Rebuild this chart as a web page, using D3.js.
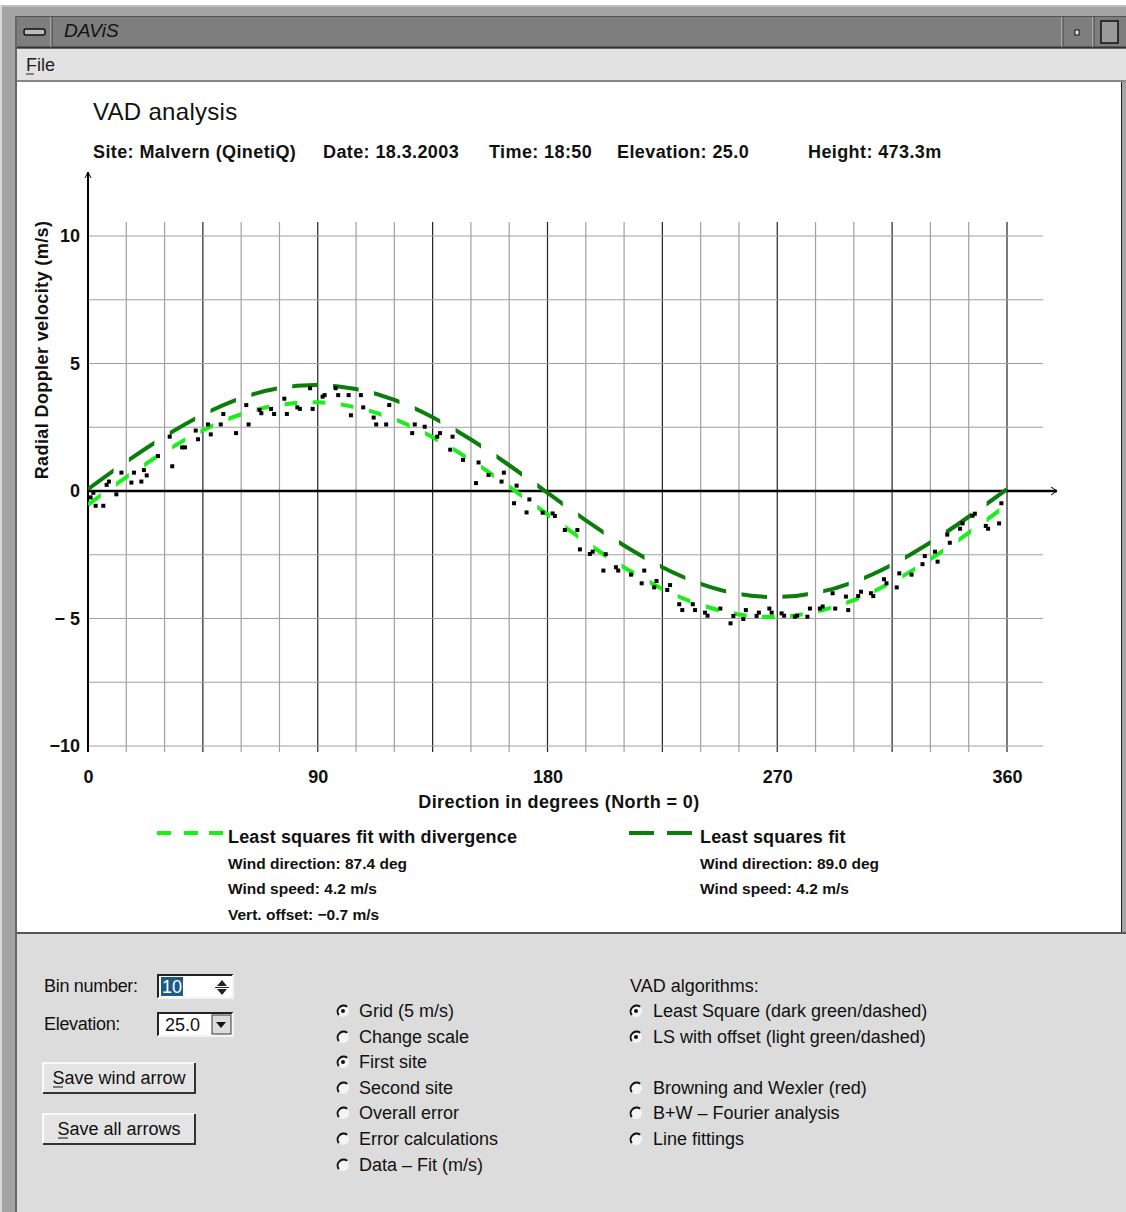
<!DOCTYPE html>
<html><head><meta charset="utf-8">
<script src="https://cdn.jsdelivr.net/npm/d3@7"></script>
<style>
html,body{margin:0;padding:0;background:#fff;}
svg{display:block;font-family:"Liberation Sans",Arial,Helvetica,sans-serif;}
</style></head>
<body>
<svg id="c" width="1126" height="1212"></svg>
<script>
// ---------- data ----------
const obsDir = [1.0,2.1,3.0,6.0,7.3,8.2,11.1,13.1,17.0,18.0,20.9,21.9,23.0,27.4,32.0,33.0,36.9,38.0,42.2,43.1,47.0,48.1,52.0,53.0,58.0,62.0,62.9,67.2,67.9,71.7,72.9,76.9,77.9,82.0,83.0,87.0,88.0,91.9,92.7,97.0,98.0,102.1,103.0,106.9,107.8,111.9,112.9,116.8,118.0,127.0,128.0,131.9,136.8,137.9,141.9,142.8,146.9,152.0,153.0,156.9,162.0,162.9,166.9,167.9,171.8,172.9,178.1,182.0,182.9,186.8,191.7,192.7,196.6,197.7,201.9,202.8,206.8,207.7,212.7,216.9,217.9,221.8,222.7,226.9,228.0,231.6,232.8,236.9,237.8,241.7,242.7,247.7,251.7,252.8,256.7,257.7,261.9,262.8,266.9,267.8,271.7,272.7,276.9,277.8,281.8,282.8,286.7,287.8,291.7,292.7,296.9,297.8,301.7,302.8,306.7,307.6,311.8,312.8,316.8,317.8,322.6,326.9,327.8,331.8,332.8,336.6,337.6,341.6,342.6,346.5,347.4,351.7,352.6,356.9,357.8];
const obsVel = [-0.25,-0.07,-0.58,-0.58,0.24,0.37,-0.13,0.72,0.33,0.72,0.37,0.82,0.61,1.37,2.13,0.97,1.71,1.71,2.37,2.03,2.61,2.22,2.61,3.02,2.27,3.37,2.61,3.18,3.05,3.22,3.02,3.62,3.02,3.28,3.22,4.03,3.22,3.70,3.76,4.03,3.76,3.76,2.97,3.76,3.28,2.88,2.61,2.61,3.37,2.27,2.61,2.52,2.13,2.27,1.62,2.13,1.22,0.31,1.12,0.63,0.37,0.72,-0.48,0.21,-0.84,-0.33,-0.85,-0.88,-0.98,-1.53,-1.53,-2.29,-2.47,-2.38,-3.12,-2.48,-2.99,-3.12,-3.28,-3.62,-3.12,-3.78,-3.53,-3.88,-3.69,-4.44,-4.67,-4.44,-4.67,-4.77,-4.89,-4.61,-5.19,-4.90,-5.02,-4.67,-4.90,-4.77,-4.61,-4.77,-4.80,-4.89,-4.93,-4.89,-4.93,-4.61,-4.61,-4.53,-4.01,-4.61,-4.14,-4.67,-4.12,-3.95,-4.01,-4.12,-3.46,-3.62,-3.78,-3.23,-3.28,-2.87,-2.55,-2.38,-2.77,-1.71,-2.03,-1.48,-1.27,-0.97,-0.89,-1.37,-1.48,-1.27,-0.48];
const fitDir = [0,15,30,45,60,75,90,105,120,135,150,165,180,195,210,225,240,255,270,285,300,315,330,345,360];
const lsFit = [0.07,1.15,2.14,2.99,3.64,4.04,4.16,4.00,3.57,2.89,2.02,1.01,-0.07,-1.15,-2.14,-2.99,-3.64,-4.04,-4.16,-4.00,-3.57,-2.89,-2.02,-1.01,0.07];
const lsOffsetFit = [-0.54,0.54,1.54,2.38,3.01,3.38,3.48,3.28,2.82,2.11,1.21,0.17,-0.92,-2.00,-3.00,-3.84,-4.47,-4.84,-4.94,-4.74,-4.28,-3.57,-2.67,-1.64,-0.54];
const xTicks = [0,90,180,270,360];
const xTickLabels = ["0","90","180","270","360"];
const yTicks = [-10,-5,0,5,10];
const yTickLabels = ["\u221210","\u2212 5","0","5","10"];
const headerItems = ["Site: Malvern (QinetiQ)","Date: 18.3.2003","Time: 18:50","Elevation: 25.0","Height: 473.3m"];
const legendDiv = ["Least squares fit with divergence","Wind direction: 87.4 deg","Wind speed: 4.2 m/s","Vert. offset: \u22120.7 m/s"];
const legendLs = ["Least squares fit","Wind direction: 89.0 deg","Wind speed: 4.2 m/s"];
const radiosLeft = [["Grid (5 m/s)",true],["Change scale",false],["First site",true],["Second site",false],["Overall error",false],["Error calculations",false],["Data \u2013 Fit (m/s)",false]];
const radiosRight = [["Least Square (dark green/dashed)",true],["LS with offset (light green/dashed)",true],null,["Browning and Wexler (red)",false],["B+W \u2013 Fourier analysis",false],["Line fittings",false]];

// ---------- frame ----------
const svg = d3.select("#c");
const W = 1126, H = 1212;
svg.append("rect").attr("x",0).attr("y",0).attr("width",W).attr("height",H).attr("fill","#a4a4a4");
svg.append("rect").attr("x",0).attr("y",0).attr("width",W).attr("height",5).attr("fill","#fff");
svg.append("line").attr("x1",1).attr("x2",1).attr("y1",5).attr("y2",H).attr("stroke","#d8d8d8").attr("stroke-width",2);
svg.append("line").attr("x1",16).attr("x2",16).attr("y1",16).attr("y2",H).attr("stroke","#555").attr("stroke-width",1.5);
svg.append("line").attr("x1",0).attr("x2",W).attr("y1",6).attr("y2",6).attr("stroke","#d8d8d8");
svg.append("line").attr("x1",17).attr("x2",W).attr("y1",16.5).attr("y2",16.5).attr("stroke","#555");
// title bar
svg.append("rect").attr("x",17).attr("y",17).attr("width",W-17).attr("height",30).attr("fill","#7e7e7e");
svg.append("line").attr("x1",17).attr("x2",W).attr("y1",47.5).attr("y2",47.5).attr("stroke","#333").attr("stroke-width",2);
svg.append("line").attr("x1",51).attr("x2",51).attr("y1",17).attr("y2",47).attr("stroke","#cfcfcf");
svg.append("line").attr("x1",52).attr("x2",52).attr("y1",17).attr("y2",47).attr("stroke","#444");
svg.append("rect").attr("x",24).attr("y",29).attr("width",21).attr("height",6).attr("rx",2).attr("fill","#bbb").attr("stroke","#111").attr("stroke-width",1.5);
svg.append("text").attr("x",64).attr("y",37).attr("font-size",19).attr("font-style","italic").attr("fill","#111").text("DAViS");
svg.append("line").attr("x1",1062).attr("x2",1062).attr("y1",17).attr("y2",47).attr("stroke","#cfcfcf");
svg.append("line").attr("x1",1063).attr("x2",1063).attr("y1",17).attr("y2",47).attr("stroke","#444");
svg.append("rect").attr("x",1075).attr("y",30).attr("width",4).attr("height",5).attr("fill","#eee").attr("stroke","#111");
svg.append("line").attr("x1",1093).attr("x2",1093).attr("y1",17).attr("y2",47).attr("stroke","#cfcfcf");
svg.append("line").attr("x1",1094).attr("x2",1094).attr("y1",17).attr("y2",47).attr("stroke","#444");
svg.append("rect").attr("x",1101).attr("y",21).attr("width",17).attr("height",22).attr("fill","#9a9a9a").attr("stroke","#111").attr("stroke-width",1.5);
// menu bar
svg.append("rect").attr("x",17).attr("y",49).attr("width",W-17).attr("height",32).attr("fill","#e2e2e2");
svg.append("line").attr("x1",17).attr("x2",W).attr("y1",81).attr("y2",81).attr("stroke","#888").attr("stroke-width",2);
svg.append("text").attr("x",26).attr("y",71).attr("font-size",18).attr("fill","#222").text("File");
svg.append("line").attr("x1",26).attr("x2",34).attr("y1",74).attr("y2",74).attr("stroke","#222");
// content (white)
svg.append("rect").attr("x",17).attr("y",82).attr("width",W-21).attr("height",850).attr("fill","#fff");
svg.append("line").attr("x1",1121.5).attr("x2",1121.5).attr("y1",82).attr("y2",932).attr("stroke","#222");
// control panel
svg.append("rect").attr("x",17).attr("y",932).attr("width",W-17).attr("height",H-932).attr("fill","#dcdcdc");
svg.append("line").attr("x1",17).attr("x2",W).attr("y1",933).attr("y2",933).attr("stroke","#555").attr("stroke-width",2);

// ---------- chart ----------
const x = d3.scaleLinear().domain([0,360]).range([88,1007]);
const y = d3.scaleLinear().domain([-10,10]).range([746,236]);
const g = svg.append("g");
const vgrid = d3.range(15,361,15);
g.selectAll(".vg").data(vgrid).join("line")
  .attr("x1",d=>x(d)).attr("x2",d=>x(d)).attr("y1",222).attr("y2",752)
  .attr("stroke",d=>d%45===0?"#222":"#a0a0a0").attr("stroke-width",1.2);
const hgrid = d3.range(-10,10.01,2.5).filter(v=>v!==0);
g.selectAll(".hg").data(hgrid).join("line")
  .attr("x1",x(0)).attr("x2",1043).attr("y1",d=>y(d)).attr("y2",d=>y(d))
  .attr("stroke","#a0a0a0").attr("stroke-width",1.2);
g.append("line").attr("x1",x(0)).attr("x2",x(0)).attr("y1",172).attr("y2",752).attr("stroke","#000").attr("stroke-width",2);
g.append("path").attr("d",`M${x(0)-3},178 L${x(0)},172 L${x(0)+3},178`).attr("fill","none").attr("stroke","#000").attr("stroke-width",1);
g.append("line").attr("x1",x(0)).attr("x2",1057).attr("y1",y(0)).attr("y2",y(0)).attr("stroke","#000").attr("stroke-width",2.5);
g.append("path").attr("d",`M1051,${y(0)-4} L1057,${y(0)} L1051,${y(0)+4}`).attr("fill","none").attr("stroke","#000").attr("stroke-width",1);

const yAxis = d3.axisLeft(y).tickValues(yTicks).tickFormat((d,i)=>yTickLabels[i]).tickSize(0).tickPadding(8);
const ya = g.append("g").attr("transform",`translate(${x(0)},0)`).call(yAxis);
ya.select(".domain").remove();
ya.selectAll("text").attr("font-size",18).attr("font-weight","bold").attr("fill","#111").attr("font-family","Liberation Sans,Arial,sans-serif");
const xAxis = d3.axisBottom(x).tickValues(xTicks).tickFormat((d,i)=>xTickLabels[i]).tickSize(0).tickPadding(0);
const xa = g.append("g").attr("transform",`translate(0,770)`).call(xAxis);
xa.select(".domain").remove();
xa.selectAll("text").attr("font-size",18).attr("font-weight","bold").attr("fill","#111").attr("font-family","Liberation Sans,Arial,sans-serif");

g.append("text").attr("x",559).attr("y",808).attr("text-anchor","middle").attr("font-size",18).attr("letter-spacing",0.4).attr("font-weight","bold").attr("fill","#111").text("Direction in degrees (North = 0)");
g.append("text").attr("transform","translate(48,350) rotate(-90)").attr("text-anchor","middle").attr("font-size",18).attr("letter-spacing",0.4).attr("font-weight","bold").attr("fill","#111").text("Radial Doppler velocity (m/s)");

svg.append("text").attr("x",93).attr("y",120).attr("font-size",24).attr("letter-spacing",0.3).attr("fill","#111").text("VAD analysis");
const headerX = [93,323,489,617,808];
svg.selectAll(".hdr").data(headerItems).join("text")
  .attr("x",(d,i)=>headerX[i]).attr("y",158).attr("font-size",18).attr("letter-spacing",0.4).attr("font-weight","bold").attr("fill","#111").text(d=>d);

function bandClip(id, period, dash){
  const cp = svg.append("clipPath").attr("id",id);
  cp.selectAll("rect").data(d3.range(0,360,period)).join("rect")
    .attr("x",d=>x(d)).attr("width",d=>x(Math.min(d+dash,360))-x(d))
    .attr("y",150).attr("height",650);
}
bandClip("clipLs",16,10);
bandClip("clipDiv",11,5);
const line = d3.line().x(d=>x(d[0])).y(d=>y(d[1])).curve(d3.curveNatural);
g.append("path").datum(fitDir.map((d,i)=>[d,lsFit[i]])).attr("d",line)
  .attr("fill","none").attr("stroke","#0b7d0b").attr("stroke-width",4).attr("clip-path","url(#clipLs)");
g.append("path").datum(fitDir.map((d,i)=>[d,lsOffsetFit[i]])).attr("d",line)
  .attr("fill","none").attr("stroke","#18f018").attr("stroke-width",4).attr("clip-path","url(#clipDiv)");

g.selectAll(".obs").data(obsDir.map((d,i)=>[d,obsVel[i]])).join("rect")
  .attr("x",d=>x(d[0])-2).attr("y",d=>y(d[1])-2).attr("width",4).attr("height",4).attr("fill","#000");

const lg = svg.append("g");
[157,184,209].forEach(px=>lg.append("line").attr("x1",px).attr("x2",px+14).attr("y1",833).attr("y2",833).attr("stroke","#18f018").attr("stroke-width",4));
[629,667].forEach(px=>lg.append("line").attr("x1",px).attr("x2",px+25).attr("y1",833).attr("y2",833).attr("stroke","#0b7d0b").attr("stroke-width",4));
function legendBlock(x0, lines){
  lines.forEach((t,i)=>{
    lg.append("text").attr("x",x0).attr("y",i===0?843:843+25.5*i)
      .attr("font-size",i===0?18:15.5).attr("letter-spacing",i===0?0.15:0).attr("font-weight","bold").attr("fill","#111").text(t);
  });
}
legendBlock(228, legendDiv);
legendBlock(700, legendLs);

// ---------- controls ----------
const cg = svg.append("g").attr("fill","#111");
const ctlFont = 18;
cg.append("text").attr("x",44).attr("y",992).attr("font-size",ctlFont).attr("letter-spacing",-0.3).text("Bin number:");
cg.append("text").attr("x",44).attr("y",1030).attr("font-size",ctlFont).attr("letter-spacing",-0.3).text("Elevation:");
function sunken(x0,y0,w,h){
  cg.append("rect").attr("x",x0).attr("y",y0).attr("width",w).attr("height",h).attr("fill","#fff");
  cg.append("path").attr("d",`M${x0},${y0+h} V${y0} H${x0+w}`).attr("fill","none").attr("stroke","#222").attr("stroke-width",2);
  cg.append("path").attr("d",`M${x0},${y0+h} H${x0+w} V${y0}`).attr("fill","none").attr("stroke","#f4f4f4").attr("stroke-width",2);
}
sunken(158,975,75,23);
cg.append("rect").attr("x",161).attr("y",977).attr("width",22).attr("height",19).attr("fill","#1d5a86");
cg.append("text").attr("x",162).attr("y",993).attr("font-size",ctlFont).attr("fill","#fff").text("10");
cg.append("path").attr("d","M217,986 L222,980 L227,986 Z M217,989 L222,995 L227,989 Z").attr("fill","#222");
cg.append("line").attr("x1",215).attr("x2",229).attr("y1",987.5).attr("y2",987.5).attr("stroke","#222");
sunken(158,1013,75,23);
cg.append("text").attr("x",165).attr("y",1031).attr("font-size",ctlFont).text("25.0");
cg.append("rect").attr("x",212).attr("y",1015).attr("width",19).attr("height",19).attr("fill","#dcdcdc").attr("stroke","#333");
cg.append("path").attr("d","M216,1022 L226,1022 L221,1028 Z").attr("fill","#111");
function button(x0,y0,w,h,label){
  cg.append("rect").attr("x",x0).attr("y",y0).attr("width",w).attr("height",h).attr("fill","#e4e4e4");
  cg.append("path").attr("d",`M${x0},${y0+h} V${y0} H${x0+w}`).attr("fill","none").attr("stroke","#fafafa").attr("stroke-width",2);
  cg.append("path").attr("d",`M${x0},${y0+h} H${x0+w} V${y0}`).attr("fill","none").attr("stroke","#333").attr("stroke-width",2);
  return cg.append("text").attr("x",x0+w/2).attr("y",y0+h/2+6).attr("text-anchor","middle").attr("font-size",ctlFont).text(label);
}
button(43,1063,152,30,"Save wind arrow");
button(43,1114,152,30,"Save all arrows");
cg.append("line").attr("x1",53).attr("x2",63).attr("y1",1087).attr("y2",1087).attr("stroke","#111");
cg.append("line").attr("x1",58).attr("x2",68).attr("y1",1138).attr("y2",1138).attr("stroke","#111");

function radio(cx,cy,checked){
  cg.append("circle").attr("cx",cx).attr("cy",cy).attr("r",6).attr("fill","#f4f4f4");
  cg.append("path").attr("d",`M${cx+4.2},${cy-4.2} A6,6 0 0 0 ${cx-4.2},${cy+4.2}`).attr("fill","none").attr("stroke","#111").attr("stroke-width",2);
  if(checked) cg.append("circle").attr("cx",cx).attr("cy",cy).attr("r",2).attr("fill","#111");
}
const leftY = [1011,1037,1062,1088,1113,1139,1165];
radiosLeft.forEach((r,i)=>{
  radio(343,leftY[i],r[1]);
  cg.append("text").attr("x",359).attr("y",leftY[i]+6).attr("font-size",ctlFont).text(r[0]);
});
cg.append("text").attr("x",630).attr("y",992).attr("font-size",ctlFont).text("VAD algorithms:");
const rightY = [1011,1037,1062,1088,1113,1139];
radiosRight.forEach((r,i)=>{
  if(!r) return;
  radio(636,rightY[i],r[1]);
  cg.append("text").attr("x",653).attr("y",rightY[i]+6).attr("font-size",ctlFont).text(r[0]);
});
</script>
</body></html>
